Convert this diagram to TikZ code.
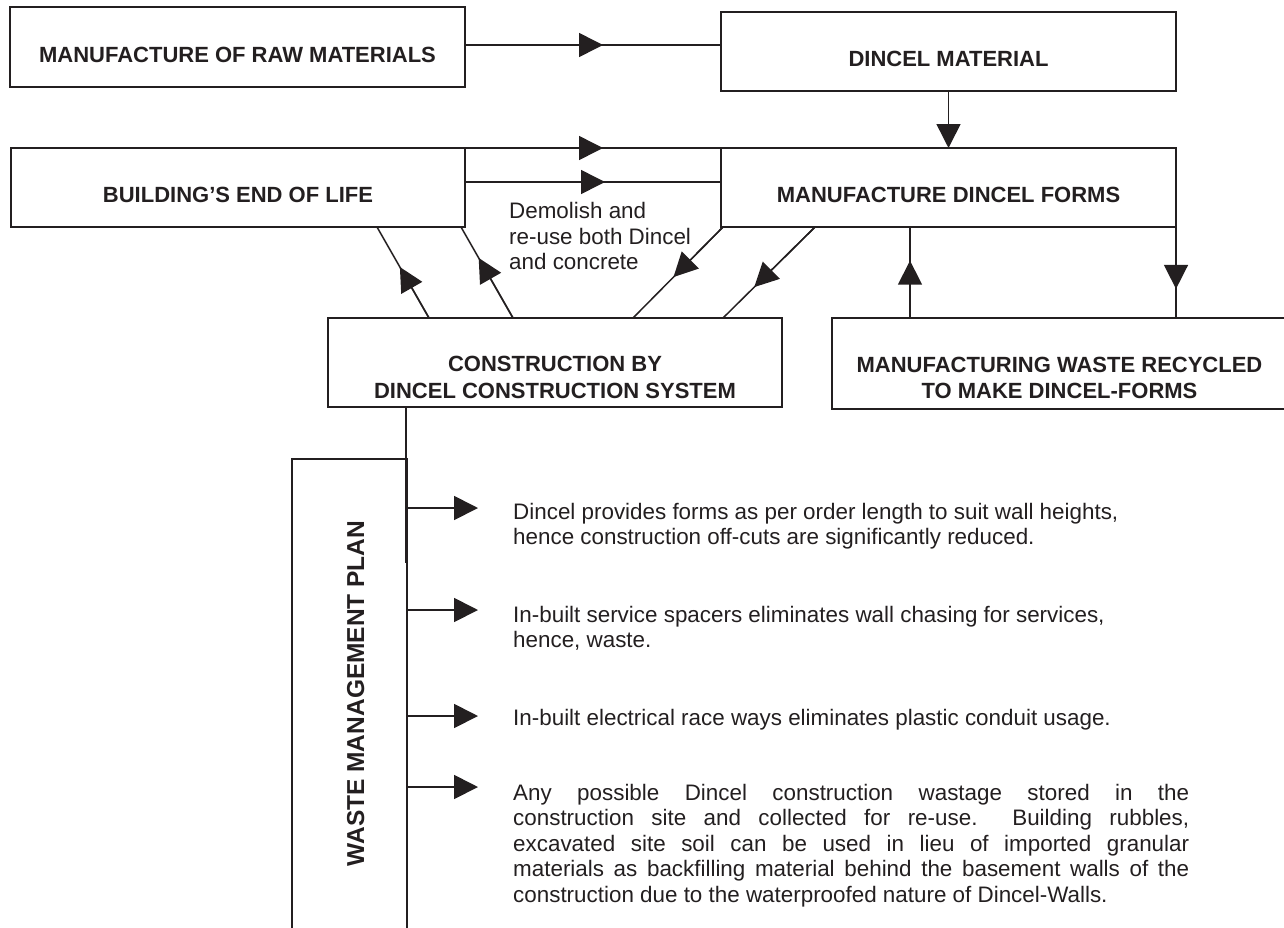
\documentclass[tikz,border=0pt]{standalone}
\usepackage{fontspec}
\setmainfont{Liberation Sans}
\usetikzlibrary{arrows.meta,calc}
\definecolor{ink}{RGB}{35,31,32}
\begin{document}
\begin{tikzpicture}[x=1pt,y=-1pt,
  box/.style={draw=ink, line width=1.7pt, minimum width=455pt, minimum height=79pt, inner sep=0pt, outer sep=0pt},
  head/.style={font=\fontsize{22}{26.6}\selectfont\bfseries, text=ink, inner sep=0pt, anchor=base},
  body/.style={font=\fontsize{22.4}{25.6}\selectfont, text=ink, inner sep=0pt, anchor=base west},
  conn/.style={draw=ink, line width=1.5pt},
  tip/.style={draw=ink, color=ink, line width=1.5pt, -{Triangle[length=24pt,width=24pt]}}
]
\useasboundingbox (0,0) rectangle (1284,927);
% boxes
\node[box, minimum height=80pt] (b1) at (237.5,47) {};
\node[box] (b2) at (948.5,51.5) {};
\node[box, minimum width=454pt] (b3) at (238,187.5) {};
\node[box] (b4) at (948.5,187.5) {};
\node[box, minimum width=454pt, minimum height=89pt] (b5) at (555,362.5) {};
\node[box, minimum height=91pt] (b6) at (1059.5,363.5) {};
\node[box, minimum width=115pt, minimum height=481pt] (b7) at (349.5,699.5) {};
% box texts
\node[head] (b1t) at (237.5,62.7) {MANUFACTURE OF RAW MATERIALS};
\node[head] (b2t) at (948.5,66) {DINCEL MATERIAL};
\node[head] (b3t) at (238,202) {BUILDING’S END OF LIFE};
\node[head] (b4t) at (948.5,202) {MANUFACTURE DINCEL FORMS};
\node[head] (b5t) at (555,371.7) {\parbox[t]{454pt}{\centering CONSTRUCTION BY\\DINCEL CONSTRUCTION SYSTEM}};
\node[head] (b6t) at (1059.5,372.3) {\parbox[t]{455pt}{\centering MANUFACTURING WASTE RECYCLED\\TO MAKE DINCEL-FORMS}};
\node[font=\fontsize{24.5}{28}\selectfont\bfseries, text=ink, rotate=90, inner sep=0pt] (b7t) at (355.8,693.5) {WASTE MANAGEMENT PLAN};
% free texts
\node[body] (dem) at (509,218.5) {\parbox[t]{300pt}{Demolish and\\re-use both Dincel\\and concrete}};
\node[body] (t1) at (513,519) {\parbox[t]{700pt}{Dincel provides forms as per order length to suit wall heights,\\hence construction off-cuts are significantly reduced.}};
\node[body] (t2) at (513,622) {\parbox[t]{700pt}{In-built service spacers eliminates wall chasing for services,\\hence, waste.}};
\node[body] (t3) at (513,725) {In-built electrical race ways eliminates plastic conduit usage.};
\node[body] (t4) at (513,800) {\parbox[t]{676pt}{%
\makebox[676pt][s]{Any possible Dincel construction wastage stored in the}\\
\makebox[676pt][s]{construction site and collected for re-use.\ \ Building rubbles,}\\
\makebox[676pt][s]{excavated site soil can be used in lieu of imported granular}\\
\makebox[676pt][s]{materials as backfilling material behind the basement walls of the}\\
construction due to the waterproofed nature of Dincel-Walls.}};
% raw materials -> dincel material
\coordinate (p1) at ($(b1.east)+(0,-2)$);
\coordinate (p2) at (p1 -| b2.west);
\draw[conn] (p1) -- (p2);
\draw[tip] (p1) -- ($(p1)+(138,0)$);
% dincel material -> manufacture forms
\draw[tip] (b2.south) -- (b4.north);
% end of life -> manufacture forms (two lines)
\draw[conn] (b3.north east) -- (b4.north west);
\draw[tip] (b3.north east) -- ($(b3.north east)+(138,0)$);
\coordinate (q1) at ($(b3.east)+(0,-5.5)$);
\coordinate (q2) at (q1 -| b4.west);
\draw[conn] (q1) -- (q2);
\draw[tip] (q1) -- ($(q1)+(140,0)$);
% construction -> end of life
\coordinate (a0) at ($(b5.north west)+(101,0)$);
\coordinate (a1) at ($(b3.south west)+(366,0)$);
\draw[conn] (a0) -- (a1);
\draw[tip] (a0) -- ($(a0)!0.56!(a1)$);
\coordinate (bb0) at ($(b5.north west)+(185,0)$);
\coordinate (bb1) at ($(b3.south east)+(-4,0)$);
\draw[conn] (bb0) -- (bb1);
\draw[tip] (bb0) -- ($(bb0)!0.66!(bb1)$);
% manufacture forms -> construction
\coordinate (c0) at ($(b4.south west)+(2,0)$);
\coordinate (c1) at ($(b5.north west)+(305,0)$);
\draw[conn] (c0) -- (c1);
\draw[tip] (c0) -- ($(c0)!0.55!(c1)$);
\coordinate (d0) at ($(b4.south west)+(94,0)$);
\coordinate (d1) at ($(b5.north west)+(395,0)$);
\draw[conn] (d0) -- (d1);
\draw[tip] (d0) -- ($(d0)!0.66!(d1)$);
% waste recycled <-> manufacture forms
\coordinate (u0) at ($(b6.north west)+(78,0)$);
\coordinate (u1) at (u0 |- b4.south);
\draw[conn] (u0) -- (u1);
\draw[tip] (u0) -- ($(u0)!0.63!(u1)$);
\coordinate (v0) at (b4.south east);
\coordinate (v1) at (v0 |- b6.north);
\draw[conn] (v0) -- (v1);
\draw[tip] (v0) -- ($(v0)!0.68!(v1)$);
% construction -> waste management plan
\coordinate (w0) at ($(b5.south west)+(78,0)$);
\coordinate (w1) at ($(w0)+(0,156)$);
\draw[conn] (w0) -- (w1);
% plan arrows
\foreach \dy [count=\i] in {49,151,257,328} {
  \coordinate (m\i) at ($(b7.north east)+(0,\dy)$);
  \draw[tip, line width=1.8pt] (m\i) -- ($(m\i)+(71,0)$);
}
\end{tikzpicture}
\end{document}
